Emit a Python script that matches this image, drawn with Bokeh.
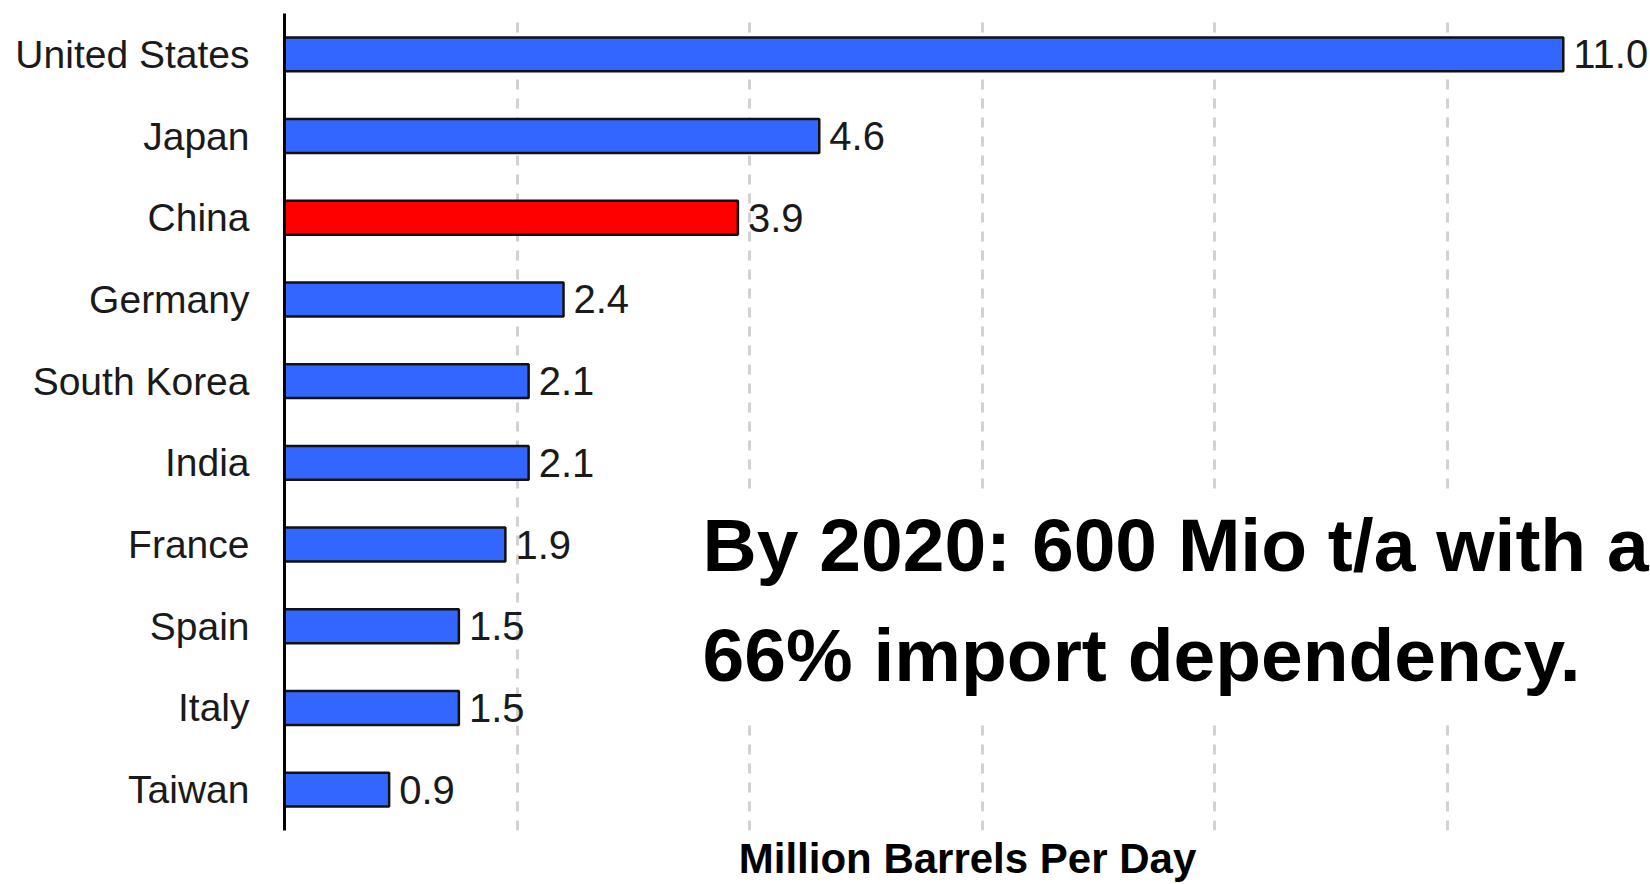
from bokeh.plotting import figure
from bokeh.models import ColumnDataSource, SingleIntervalTicker, FixedTicker, BoxAnnotation, Label, FactorRange
from bokeh.core.properties import value
from bokeh.embed import file_html
from bokeh.resources import INLINE

countries = ["United States", "Japan", "China", "Germany", "South Korea",
             "India", "France", "Spain", "Italy", "Taiwan"]
imports = [11.0, 4.6, 3.9, 2.4, 2.1, 2.1, 1.9, 1.5, 1.5, 0.9]
highlight = "China"
x_label = "Million Barrels Per Day"
note_lines = ["By 2020: 600 Mio t/a with a", "66% import dependency."]

colors = ["#ff0000" if c == highlight else "#3366ff" for c in countries]
labels = ["%.1f" % v for v in imports]

src = ColumnDataSource(dict(country=countries, val=imports, color=colors, label=labels))

p = figure(
    y_range=FactorRange(factors=list(reversed(countries))),
    x_range=(0, 11.75),
    width=1650, height=884,
    output_backend="svg", toolbar_location=None,
    min_border_left=284, min_border_right=0, min_border_top=13, min_border_bottom=53,
)
p.outline_line_color = None
p.background_fill_color = "white"
p.border_fill_color = "white"

p.hbar(y="country", right="val", left=0, height=0.415, source=src,
       fill_color="color", line_color="#111111", line_width=2.5)

p.text(x="val", y="country", text="label", source=src,
       x_offset=10, text_align="left", text_baseline="middle",
       text_font=value("Liberation Sans"), text_font_size="40px", text_color="#1a1a1a")

# grid lines every 2 units; the x axis shows only its title
p.xgrid.ticker = SingleIntervalTicker(interval=2)
p.xgrid.grid_line_color = "#d2d2d2"
p.xgrid.grid_line_width = 3
p.xgrid.grid_line_dash = "10 9"
p.ygrid.grid_line_color = None

p.xaxis.ticker = FixedTicker(ticks=[])
p.xaxis.axis_line_color = None
p.xaxis.major_tick_line_color = None
p.xaxis.minor_tick_line_color = None
p.xaxis.major_tick_out = 0
p.xaxis.minor_tick_out = 0
p.xaxis.axis_label = x_label
p.xaxis.axis_label_text_font = "Liberation Sans"
p.xaxis.axis_label_text_font_style = "bold"
p.xaxis.axis_label_text_font_size = "42px"
p.xaxis.axis_label_text_color = "black"
p.xaxis.axis_label_standoff = 4

# y axis
p.yaxis.axis_line_color = "black"
p.yaxis.axis_line_width = 3
p.yaxis.major_tick_line_color = None
p.yaxis.major_tick_out = 0
p.yaxis.major_tick_in = 0
p.yaxis.major_label_standoff = 35
p.yaxis.major_label_text_font = "Liberation Sans"
p.yaxis.major_label_text_font_size = "39px"
p.yaxis.major_label_text_color = "#1a1a1a"

# white box behind the note
box = BoxAnnotation(left=3.49, right=None, bottom=1.39, top=4.14,
                    fill_color="white", fill_alpha=1.0, line_alpha=0)
p.add_layout(box)

for txt, yy in zip(note_lines, [3.49, 2.145]):
    p.add_layout(Label(x=3.596, y=yy, text=txt, text_align="left", text_baseline="alphabetic",
                       text_font="Liberation Sans", text_font_style="bold",
                       text_font_size="75px", text_color="black"))

open("out.html", "w").write(file_html(p, INLINE))
